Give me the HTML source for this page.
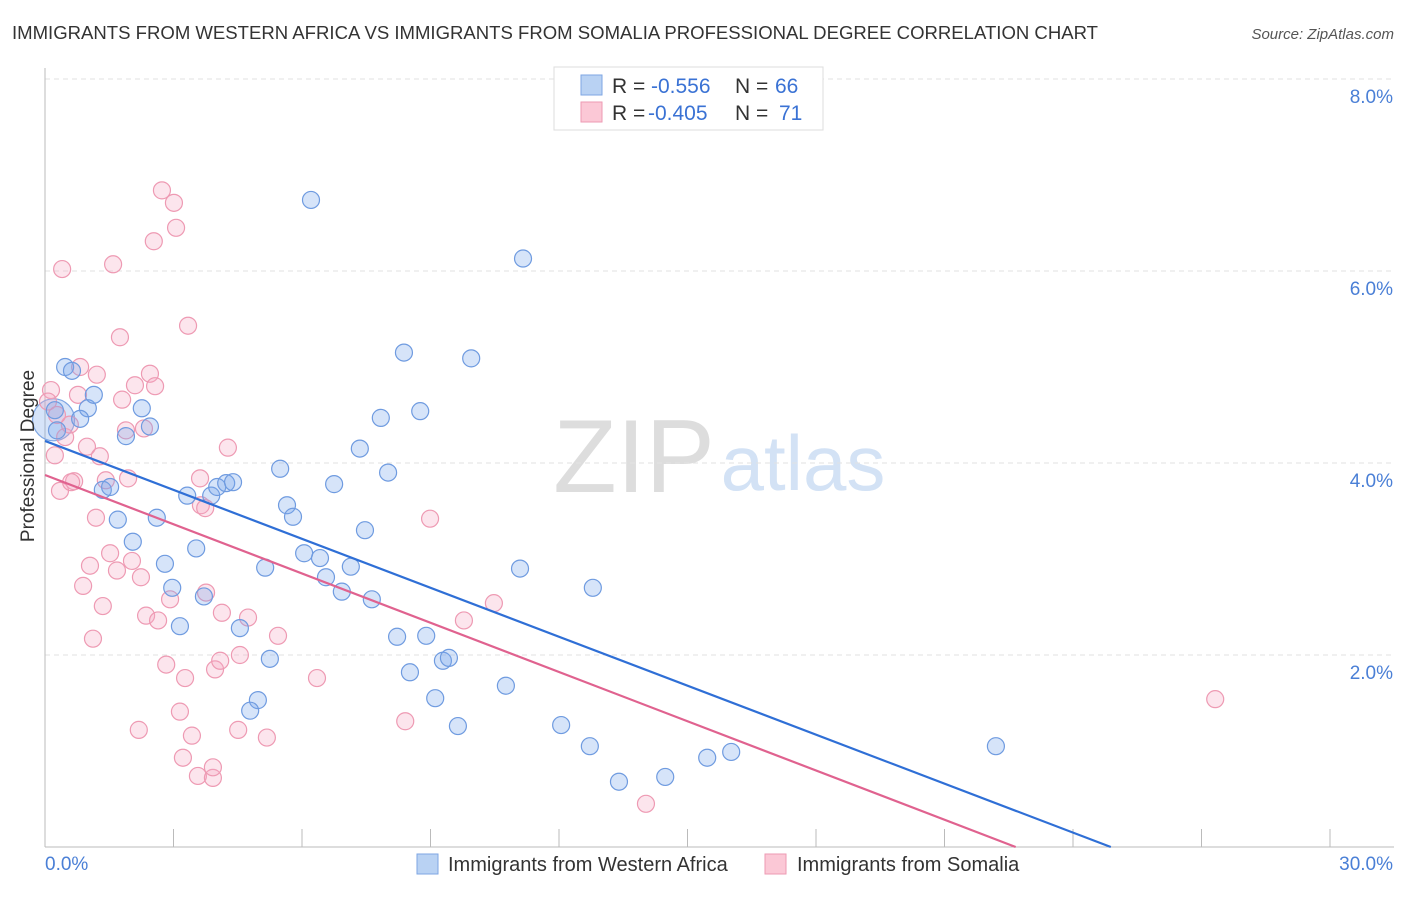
<!DOCTYPE html>
<html><head><meta charset="utf-8"><style>
body{margin:0;background:#fff;font-family:"Liberation Sans",sans-serif;}
svg text{font-family:"Liberation Sans",sans-serif;}
</style></head><body>
<svg id="chart" width="1406" height="892">
<text x="12" y="39" font-size="18.4" fill="#333" textLength="1086" lengthAdjust="spacingAndGlyphs">IMMIGRANTS FROM WESTERN AFRICA VS IMMIGRANTS FROM SOMALIA PROFESSIONAL DEGREE CORRELATION CHART</text>
<text x="1394" y="39" font-size="15" fill="#555" font-style="italic" text-anchor="end">Source: ZipAtlas.com</text>
<g>
<text x="634" y="492" font-size="104" fill="#ddd" font-family="Liberation Serif" text-anchor="middle">ZIP</text>
<text x="803" y="490" font-size="78" fill="#d3e2f5" text-anchor="middle">atlas</text>
</g>
<g id="grid"></g>
<g id="axes"></g>
<g id="pts"></g>
<g id="lines"></g>
<text transform="translate(34,456) rotate(-90)" font-size="19" fill="#333" text-anchor="middle">Professional Degree</text>
<g>
<rect x="554" y="67" width="269" height="63" fill="#fff" stroke="#ddd"/>
<rect x="581" y="75" width="21" height="20" fill="#b9d2f3" stroke="#7ea6e3"/>
<rect x="581" y="102" width="21" height="20" fill="#fbc8d6" stroke="#ee9ab3"/>
<text y="93" font-size="21" fill="#333"><tspan x="612">R =</tspan><tspan x="651" fill="#3a72d4">-0.556</tspan><tspan x="735">N =</tspan><tspan x="775" fill="#3a72d4">66</tspan></text>
<text y="120" font-size="21" fill="#333"><tspan x="612">R =</tspan><tspan x="648" fill="#3a72d4">-0.405</tspan><tspan x="735">N =</tspan><tspan x="779" fill="#3a72d4">71</tspan></text>
</g>
<g>
<rect x="417" y="854" width="21" height="20" fill="#b9d2f3" stroke="#7ea6e3"/>
<text x="448" y="871" font-size="20" fill="#333">Immigrants from Western Africa</text>
<rect x="765" y="854" width="21" height="20" fill="#fbc8d6" stroke="#ee9ab3"/>
<text x="797" y="871" font-size="20" fill="#333">Immigrants from Somalia</text>
</g>
</svg>
<script>
const yTicks=[2,4,6,8];
const yTickLabels=["2.0%","4.0%","6.0%","8.0%"];
const xTicks=[0,3,6,9,12,15,18,21,24,27,30];
const blueX=[0.47,0.63,0.23,1.00,1.14,0.82,2.26,1.89,2.45,1.35,1.52,1.70,2.61,2.05,2.80,2.97,3.53,3.32,3.71,3.88,4.02,4.23,4.39,3.15,4.55,5.25,4.97,4.79,5.14,5.49,5.65,5.79,6.05,6.42,6.56,6.93,6.75,7.14,7.63,7.47,7.35,7.84,8.01,8.38,8.76,8.22,8.90,8.52,9.29,9.43,9.11,9.64,9.95,10.76,11.09,11.16,12.05,12.72,12.79,13.40,14.48,15.46,16.02,22.20,6.21,0.28];
const blueY=[5.00,4.96,4.55,4.57,4.71,4.46,4.57,4.28,4.38,3.72,3.75,3.41,3.43,3.18,2.95,2.70,3.11,3.66,2.61,3.66,3.75,3.79,3.80,2.30,2.28,1.96,1.53,1.42,2.91,3.94,3.56,3.44,3.06,3.01,2.81,2.66,3.78,2.92,2.58,3.30,4.15,4.47,3.90,5.15,4.54,2.19,2.20,1.82,1.94,1.97,1.55,1.26,5.09,1.68,2.90,6.13,1.27,1.05,2.70,0.68,0.73,0.93,0.99,1.05,6.74,4.34];
const pinkX=[0.14,0.07,0.23,0.40,0.35,0.47,0.58,0.68,0.61,0.82,0.77,0.89,0.98,1.05,1.12,1.19,1.28,1.35,1.21,1.42,1.52,1.59,1.68,1.75,1.80,1.89,1.94,2.03,2.10,2.24,2.31,2.36,2.45,2.57,2.54,2.64,2.19,2.73,2.83,2.92,3.01,3.06,3.15,3.27,3.34,3.43,3.22,3.57,3.64,3.62,3.76,3.92,3.92,3.97,4.09,4.13,4.27,4.51,4.55,4.74,5.18,5.44,6.35,8.41,8.99,10.48,9.78,14.03,27.32,3.74,0.28];
const pinkY=[4.76,4.64,4.08,6.02,3.71,4.27,4.40,3.81,3.80,5.00,4.71,2.72,4.17,2.93,2.17,3.43,4.07,2.51,4.92,3.82,3.06,6.07,2.88,5.31,4.66,4.34,3.84,2.98,4.81,2.81,4.36,2.41,4.93,4.80,6.31,2.36,1.22,6.84,1.90,2.58,6.71,6.45,1.41,1.76,5.43,1.16,0.93,0.74,3.56,3.84,2.65,0.72,0.83,1.85,1.94,2.44,4.16,1.22,2.00,2.39,1.14,2.20,1.76,1.31,3.42,2.54,2.36,0.45,1.54,3.53,4.50];
const blueTrend=[4.23,-0.170];
const pinkTrend=[3.875,-0.171];
const NS='http://www.w3.org/2000/svg';
const X0=45,X1=1330,Y0=847,YS=96;
const sx=v=>X0+v/30*(X1-X0);
const sy=v=>Y0-v*YS;
function mk(t,a,p){const e=document.createElementNS(NS,t);for(const k in a)e.setAttribute(k,a[k]);p.appendChild(e);return e;}
const grid=document.getElementById('grid'),axes=document.getElementById('axes'),pts=document.getElementById('pts'),lines=document.getElementById('lines');
yTicks.forEach((t,i)=>{
 const l=mk('line',{x1:X0,x2:1394,y1:sy(t),y2:sy(t),stroke:'#e2e2e2','stroke-dasharray':'5,4'},grid);
 
 
 const tx=mk('text',{x:1393,y:sy(t)+24,'font-size':19,fill:'#4a7fd6','text-anchor':'end'},axes);
 tx.textContent=yTickLabels[i];
 
 
});
const ya=mk('line',{x1:X0,x2:X0,y1:68,y2:Y0,stroke:'#bbb'},axes);


const xa=mk('line',{x1:X0,x2:1394,y1:Y0,y2:Y0,stroke:'#bbb'},axes);


xTicks.forEach(t=>{
 const l=mk('line',{x1:sx(t),x2:sx(t),y1:829,y2:Y0,stroke:'#bbb'},axes);
 
 
});
const xl0=mk('text',{x:45,y:870,'font-size':19,fill:'#4a7fd6'},axes);xl0.textContent='0.0%';


const xl1=mk('text',{x:1393,y:870,'font-size':19,fill:'#4a7fd6','text-anchor':'end'},axes);xl1.textContent='30.0%';


const big=mk('circle',{cx:sx(0.2),cy:sy(4.45),r:21,fill:'rgba(120,165,235,0.3)',stroke:'#7ea6e3','stroke-width':1.2},pts);


function drawPts(xs,ys,fill,stroke,name){xs.forEach((x,i)=>{
 const c=mk('circle',{cx:sx(x),cy:sy(ys[i]),r:8.5,fill:fill,stroke:stroke,'stroke-width':1.2},pts);
 
 
});}
drawPts(pinkX,pinkY,'rgba(246,170,195,0.3)','#ee9ab3','point-somalia');
drawPts(blueX,blueY,'rgba(120,165,235,0.3)','#6f9be0','point-western-africa');
function trend(tr,col,name){const xe=-tr[0]/tr[1];
 const l=mk('line',{x1:sx(0),y1:sy(tr[0]),x2:sx(xe),y2:sy(0),stroke:col,'stroke-width':2.2},lines);
 
 
}
trend(blueTrend,'#2f6fd6','trend-line-western-africa');
trend(pinkTrend,'#e0628f','trend-line-somalia');
</script>
</body></html>
